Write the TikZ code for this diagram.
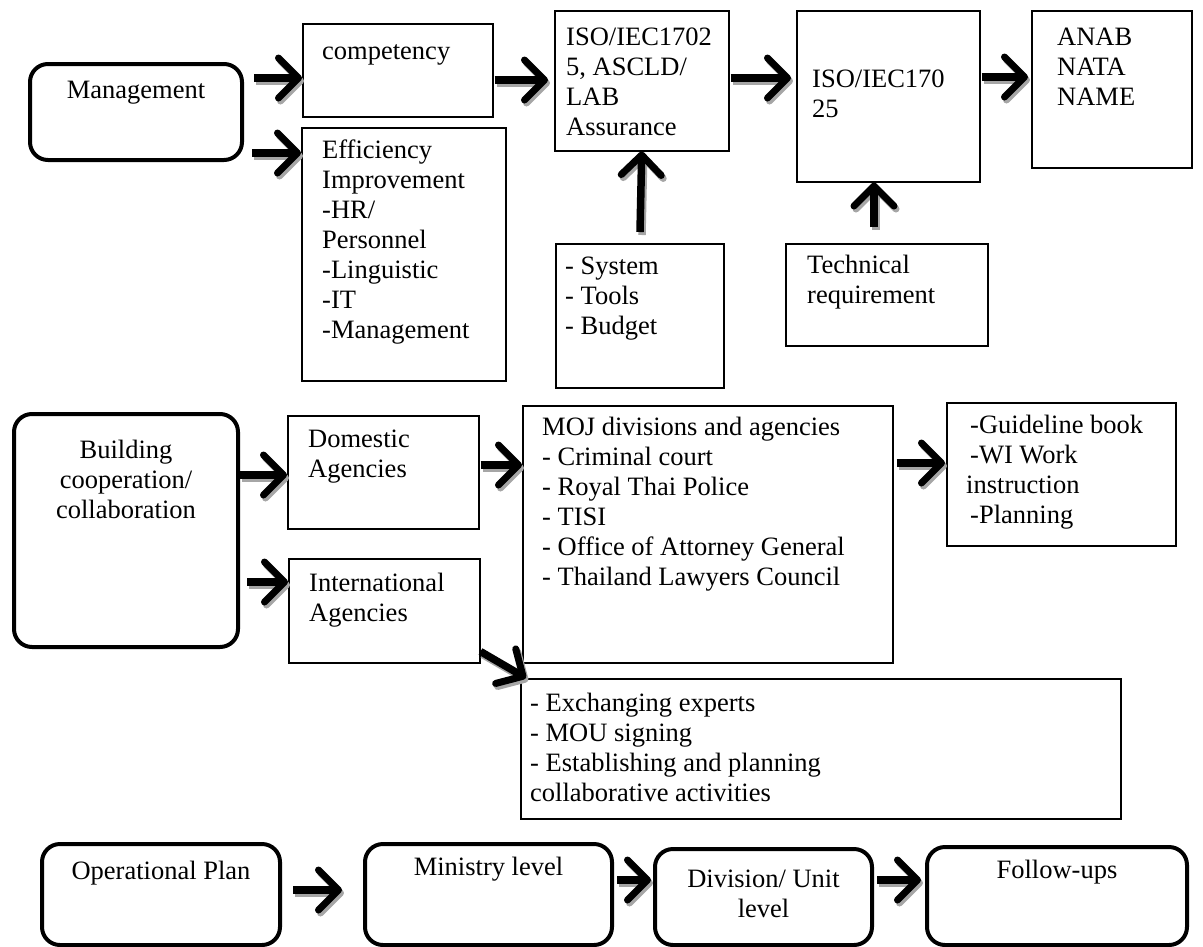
\documentclass[tikz,border=0pt]{standalone}
\usepackage{fontspec}
\setmainfont{Liberation Serif}
\usetikzlibrary{arrows.meta}

\tikzset{
  plainbox/.style={draw,line width=1.5pt,inner sep=0pt,anchor=north west},
  roundbox/.style={draw,line width=4pt,rounded corners=18pt,inner sep=0pt,anchor=north west},
  boxtext/.style={inner sep=0pt,anchor=north west,align=left,font=\fontsize{26.5}{30}\selectfont,execute at begin node=\strut},
  midtext/.style={boxtext,anchor=north,align=center},
  bigarrow/.style={line width=7.5pt,-{Straight Barb[length=20pt,width=40pt,line width=7pt,round]}},
  arrowshade/.style={bigarrow,draw=black!35,transform canvas={shift={(2pt,-3pt)}}}
}
% thick arrow with a grey drop shadow
\newcommand{\bigarr}[2][]{\draw[arrowshade,#1] #2; \draw[bigarrow,#1] #2;}

\begin{document}
\begin{tikzpicture}[x=1pt,y=-1pt]
  \useasboundingbox (0,0) rectangle (1203,946);
  % first row
  \node[roundbox,minimum width=212pt,minimum height=96pt] (mgmt) at (28,62) {};
  \node[midtext] (mgmtlbl) at ([yshift=-15pt]mgmt.north) {Management};
  \node[plainbox,minimum width=190pt,minimum height=93pt] (comp) at (302,23) {};
  \node[boxtext] (complbl) at ([xshift=20pt,yshift=-15pt]comp.north west) {competency};
  \node[plainbox,minimum width=204pt,minimum height=253pt] (effic) at (301,127) {};
  \node[boxtext] (efficlbl) at ([xshift=21pt,yshift=-13pt]effic.north west)
    {Efficiency\\Improvement\\-HR/\\Personnel\\-Linguistic\\-IT\\-Management};
  \node[plainbox,minimum width=174pt,minimum height=140pt] (isoa) at (554,10) {};
  \node[boxtext] (isoalbl) at ([xshift=12pt,yshift=-18pt]isoa.north west)
    {ISO/IEC1702\\5, ASCLD/\\LAB\\Assurance};
  \node[plainbox,minimum width=183pt,minimum height=171pt] (isob) at (796,10) {};
  \node[boxtext] (isoblbl) at ([xshift=16pt,yshift=-60pt]isob.north west) {ISO/IEC170\\25};
  \node[plainbox,minimum width=160pt,minimum height=157pt] (anab) at (1031,10) {};
  \node[boxtext] (anablbl) at ([xshift=26pt,yshift=-18pt]anab.north west) {ANAB\\NATA\\NAME};
  \node[plainbox,minimum width=168pt,minimum height=144pt] (sys) at (555,243) {};
  \node[boxtext] (syslbl) at ([xshift=10pt,yshift=-14pt]sys.north west) {- System\\- Tools\\- Budget};
  \node[plainbox,minimum width=202pt,minimum height=102pt] (tech) at (785,243) {};
  \node[boxtext] (techlbl) at ([xshift=22pt,yshift=-12pt]tech.north west) {Technical\\requirement};

  % second row
  \node[roundbox,minimum width=224pt,minimum height=233pt] (build) at (12,412) {};
  \node[midtext] (buildlbl) at ([yshift=-28pt]build.north) {Building\\cooperation/\\collaboration};
  \node[plainbox,minimum width=191pt,minimum height=113pt] (dom) at (287,415) {};
  \node[boxtext] (domlbl) at ([xshift=21pt,yshift=-15pt]dom.north west) {Domestic\\Agencies};
  \node[plainbox,minimum width=191pt,minimum height=104pt] (intl) at (288,558) {};
  \node[boxtext] (intllbl) at ([xshift=21pt,yshift=-15pt]intl.north west) {International\\Agencies};
  \node[plainbox,minimum width=370pt,minimum height=257pt] (moj) at (522,405) {};
  \node[boxtext] (mojlbl) at ([xshift=20pt,yshift=-12pt]moj.north west)
    {MOJ divisions and agencies\\- Criminal court\\- Royal Thai Police\\- TISI\\- Office of Attorney General\\- Thailand Lawyers Council};
  \node[plainbox,minimum width=229pt,minimum height=143pt] (guide) at (946,402) {};
  \node[boxtext] (guidelbl) at ([xshift=20pt,yshift=-13pt]guide.north west)
    {\hspace{4pt}-Guideline book\\\hspace{4pt}-WI Work\\instruction\\\hspace{4pt}-Planning};
  \node[plainbox,minimum width=600pt,minimum height=140pt] (exch) at (520,678) {};
  \node[boxtext] (exchlbl) at ([xshift=10pt,yshift=-15pt]exch.north west)
    {- Exchanging experts\\- MOU signing\\- Establishing and planning\\collaborative activities};

  % third row
  \node[roundbox,minimum width=238pt,minimum height=101pt] (oplan) at (40,842) {};
  \node[midtext] (oplanlbl) at ([yshift=-16pt]oplan.north) {Operational Plan};
  \node[roundbox,minimum width=247pt,minimum height=101pt] (minis) at (363,842) {};
  \node[midtext] (minislbl) at ([yshift=-12pt]minis.north) {Ministry level};
  \node[roundbox,minimum width=217pt,minimum height=96pt] (divis) at (653,847) {};
  \node[midtext] (divislbl) at ([yshift=-23pt]divis.north) {Division/ Unit\\level};
  \node[roundbox,minimum width=260pt,minimum height=98pt] (follow) at (925,845) {};
  \node[midtext] (followlbl) at ([yshift=-12pt]follow.north) {Follow-ups};

  % arrows
  \bigarr[shorten <=10pt]{(mgmt.east |- 0,78) -- (comp.west |- 0,78)}
  \bigarr[shorten <=8pt]{(mgmt.east |- 0,153) -- (effic.west |- 0,153)}
  \bigarr[shorten <=1pt,shorten >=6pt]{(comp.east |- 0,80) -- (isoa.west |- 0,80)}
  \bigarr[shorten <=1pt,shorten >=5pt]{(isoa.east |- 0,78) -- (isob.west |- 0,78)}
  \bigarr[shorten <=1pt,shorten >=3pt]{(isob.east |- 0,77) -- (anab.west |- 0,77)}
  \bigarr[shorten <=11pt]{(sys.north) -- (isoa.south)}
  \bigarr[shorten <=16pt]{(tech.north -| 874,0) -- (isob.south -| 874,0)}
  \bigarr{(build.east |- 0,475) -- (dom.west |- 0,475)}
  \bigarr[shorten <=7pt]{(build.east |- 0,582) -- (intl.west |- 0,582)}
  \bigarr[shorten <=1pt]{(dom.east |- 0,465) -- (moj.west |- 0,465)}
  \bigarr[shorten <=3pt,shorten >=1pt]{(moj.east |- 0,463) -- (guide.west |- 0,463)}
  \bigarr{([yshift=12pt]intl.south east) -- ([xshift=6pt]exch.north west)}
  \bigarr[shorten <=11pt,shorten >=21pt]{(oplan.east |- 0,890) -- (minis.west |- 0,890)}
  \bigarr[shorten <=3pt,shorten >=2pt]{(minis.east |- 0,880) -- (divis.west |- 0,880)}
  \bigarr[shorten <=3pt,shorten >=4pt]{(divis.east |- 0,880) -- (follow.west |- 0,880)}
\end{tikzpicture}
\end{document}
